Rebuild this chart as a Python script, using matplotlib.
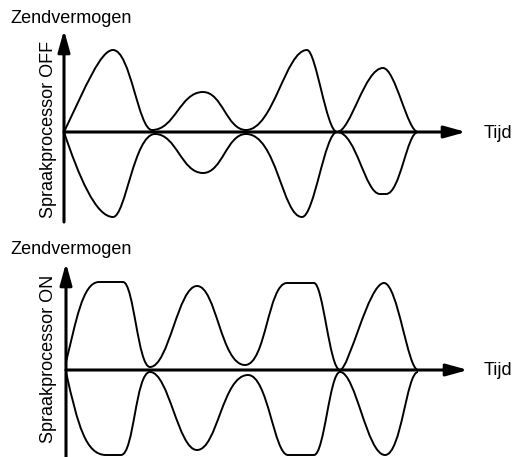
import numpy as np
import matplotlib.pyplot as plt
from matplotlib.path import Path
from matplotlib.patches import PathPatch

plt.rcParams['font.family'] = ['Liberation Sans', 'DejaVu Sans']

# envelope key points (time, amplitude) in arbitrary units
# Spraakprocessor OFF
off_up_t = [0, 49, 88, 139, 182, 243, 273, 319, 354]
off_up_a = [0, 82, 2, 40, 2, 82, 0, 64, 0]
off_lo_t = [0, 49, 91, 139, 182, 238, 273, 316, 322, 354]
off_lo_a = [0, -85, -2, -41, -2, -85, 0, -62, -62, 0]

# Spraakprocessor ON
on_up_t = [0, 33, 57, 84, 131, 179, 221, 248, 274, 318, 352]
on_up_a = [8, 88, 88, 3, 84, 5, 87, 87, 0, 87, 0]
on_lo_t = [0, 40, 55, 84, 131, 182, 222, 248, 274, 319, 352]
on_lo_a = [-2, -85, -85, -2, -80, -5, -85, -85, -2, -85, -2]

panel_labels = ['Spraakprocessor OFF', 'Spraakprocessor ON']
y_title = 'Zendvermogen'
x_title = 'Tijd'

# curve shape at each key point: (slope, handle in, handle out)
off_up_shape = [(2.1, 0, .45), (0, .25, .45), (0, .35, .45), (0, .45, .45), (0, .45, .45),
                (0, .35, .3), (0, .35, .3), (0, .4, .35), (0, .3, 0)]
off_lo_shape = [(-3, 0, .3), (0, .35, .3), (0, .5, .45), (0, .45, .45), (0, .45, .55),
                (0, .35, .35), (0, .35, .45), (0, .35, 0), (0, 0, .45), (0, .35, 0)]
on_up_shape = [(4, 0, .3), (0, .5, 0), (0, 0, .4), (0, .45, .4), (0, .4, .4), (0, .5, .5),
               (0, .45, 0), (0, 0, .35), (0, .4, .2), (0, .35, .4), (0, .3, 0)]
on_lo_shape = [(-4.5, 0, .3), (0, .5, 0), (0, 0, .45), (0, .5, .4), (0, .4, .4), (0, .5, .5),
               (0, .35, 0), (0, 0, .4), (0, .4, .35), (0, .4, .5), (0, .35, 0)]

W, H = 514, 457


def envelope(ax, ts, amps, shape):
    verts = [(ts[0], amps[0])]
    codes = [Path.MOVETO]
    for i in range(len(ts) - 1):
        t0, a0, t1, a1 = ts[i], amps[i], ts[i + 1], amps[i + 1]
        dt = t1 - t0
        s0, _, h0 = shape[i]
        s1, h1, _ = shape[i + 1]
        c1 = (t0 + h0 * dt, a0 + s0 * h0 * dt)
        c2 = (t1 - h1 * dt, a1 - s1 * h1 * dt)
        verts += [c1, c2, (t1, a1)]
        codes += [Path.CURVE4] * 3
    ax.add_patch(PathPatch(Path(verts, codes), fill=False, lw=1.4,
                           ec='black', clip_on=False, joinstyle='round'))


def panel(origin, x_tip, y_tip, y_bot):
    ox, oy = origin
    ax = fig.add_axes([ox / W, 1 - y_bot / H, (x_tip - ox) / W, (y_bot - y_tip) / H])
    ax.set_xlim(0, x_tip - ox)
    ax.set_ylim(-(y_bot - oy), oy - y_tip)
    ax.axis('off')
    arrow = dict(arrowstyle='-|>,head_length=1.3,head_width=0.36', lw=2.2,
                 color='black', shrinkA=0, shrinkB=0)
    ax.annotate('', xy=(0, oy - y_tip), xytext=(0, -(y_bot - oy)),
                arrowprops=arrow, annotation_clip=False)
    ax.annotate('', xy=(x_tip - ox, 0), xytext=(0, 0),
                arrowprops=arrow, annotation_clip=False)
    return ax


fig = plt.figure(figsize=(W / 100, H / 100), dpi=100)

ax1 = panel((64, 132), 466, 30, 222)
envelope(ax1, off_up_t, off_up_a, off_up_shape)
envelope(ax1, off_lo_t, off_lo_a, off_lo_shape)

ax2 = panel((66, 370), 468, 263, 460)
envelope(ax2, on_up_t, on_up_a, on_up_shape)
envelope(ax2, on_lo_t, on_lo_a, on_lo_shape)

# texts
for yb in [23, 254]:
    fig.text(10 / W, 1 - yb / H, y_title, fontsize=13, va='baseline', ha='left')
for yb in [138, 375]:
    fig.text(484 / W, 1 - yb / H, x_title, fontsize=13, va='baseline', ha='left')
for lab, yc in zip(panel_labels, [129, 359]):
    fig.text(53 / W, 1 - yc / H, lab, fontsize=13, rotation=90,
             rotation_mode='anchor', ha='center', va='baseline')

plt.savefig('out.png', dpi=100)
